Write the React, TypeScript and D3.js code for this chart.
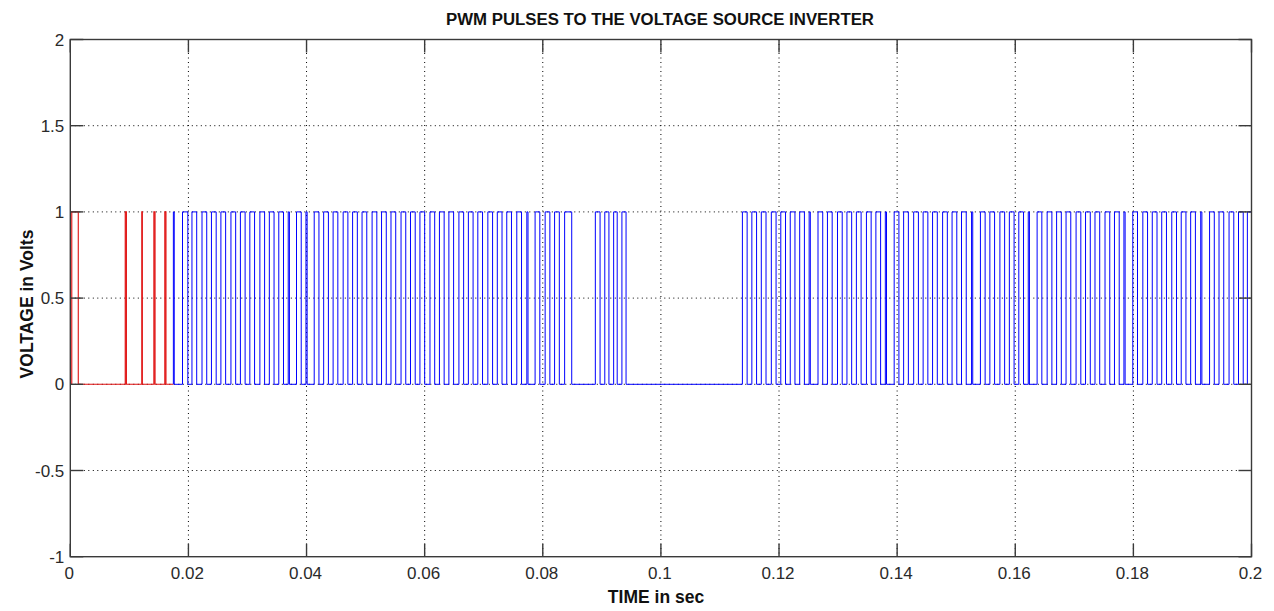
import React from "react";
import * as d3 from "d3";

// x tick values (seconds) and y tick values (volts)
const xTicks = [0, 0.02, 0.04, 0.06, 0.08, 0.1, 0.12, 0.14, 0.16, 0.18, 0.2];
const yTicks = [-1, -0.5, 0, 0.5, 1, 1.5, 2];

// Red series (start-up part), pulses as [rise, fall] in milliseconds
const redEndMs = 17.45;
const redPulsesMs: [number, number][] = [
  [0.25, 1.35],
  [9.3, 9.5],
  [12.1, 12.2],
  [14.15, 14.35],
  [16.0, 16.2],
];

// Blue series, pulses as [rise, fall] in milliseconds
const blueStartMs = 17.45;
const blueEndMs = 200;
const bluePulsesMs: [number, number][] = [
  [17.45, 17.6], [19.0, 19.9], [20.6, 21.4], [22.3, 23.1], [23.9, 24.7], [25.5, 26.3],
  [27.2, 28.0], [28.8, 29.6], [30.4, 31.2], [32.1, 32.9], [33.7, 34.5], [35.3, 36.1],
  [36.9, 37.1], [38.3, 39.1], [39.9, 40.1], [41.3, 42.1], [42.9, 43.7], [44.5, 45.3],
  [46.2, 47.0], [47.8, 48.6], [49.4, 50.2], [51.1, 51.9], [52.7, 53.5], [54.3, 55.1],
  [56.0, 56.8], [57.6, 58.4], [59.2, 60.0], [60.9, 61.7], [62.5, 63.3], [64.1, 64.9],
  [65.8, 66.6], [67.4, 68.2], [69.0, 69.8], [70.7, 71.5], [72.3, 73.1], [73.9, 74.7],
  [75.6, 76.4], [77.3, 77.5], [78.7, 79.5], [80.4, 81.2], [82.0, 82.8], [83.7, 84.9],
  [88.9, 89.7], [90.5, 91.2], [92.0, 92.6], [93.4, 94.1],
  [113.8, 114.6], [115.4, 116.2], [117.0, 117.8], [118.7, 119.5], [120.3, 121.1], [121.9, 122.7],
  [123.5, 124.3], [125.1, 125.3], [126.6, 127.4], [128.2, 129.0], [129.9, 130.7], [131.5, 132.3],
  [133.1, 133.9], [134.8, 135.6], [136.4, 137.2], [138.0, 138.2], [139.5, 140.3], [141.1, 141.9],
  [142.8, 143.6], [144.4, 145.2], [146.0, 146.8], [147.7, 148.5], [149.3, 150.1], [150.9, 151.7],
  [152.6, 152.8], [154.1, 154.9], [155.7, 156.5], [157.4, 158.2], [159.0, 159.8], [160.6, 161.4],
  [162.2, 162.4], [163.7, 164.5], [165.4, 166.2], [167.0, 167.8], [168.6, 169.4], [170.3, 171.1],
  [171.9, 172.7], [173.5, 174.3], [175.2, 176.0], [176.8, 177.6], [178.4, 178.6], [179.9, 180.7],
  [181.6, 182.4], [183.2, 184.0], [184.8, 185.6], [186.5, 187.3], [188.1, 188.9], [189.7, 190.5],
  [191.4, 191.6], [192.9, 193.7], [194.5, 195.3], [196.2, 197.0], [197.8, 198.6], [199.3, 200],
];

const title = "PWM PULSES TO THE VOLTAGE SOURCE INVERTER";
const xLabel = "TIME in sec";
const yLabel = "VOLTAGE in Volts";

const W = 1274;
const H = 611;
const L = 70.3, R = 1251.5, T = 39.5, B = 556.7;

function pulsePoints(startMs: number, endMs: number, pulses: [number, number][]): [number, number][] {
  const pts: [number, number][] = [[startMs / 1000, 0]];
  for (const [s, e] of pulses) {
    pts.push([s / 1000, 0], [s / 1000, 1], [e / 1000, 1], [e / 1000, 0]);
  }
  pts.push([endMs / 1000, 0]);
  return pts;
}

export default function App() {
  const x = d3.scaleLinear().domain([0, 0.2]).range([L, R]);
  const y = d3.scaleLinear().domain([-1, 2]).range([B, T]);
  const line = d3.line<[number, number]>().x((d) => x(d[0])).y((d) => y(d[1]));
  const redPath = line(pulsePoints(0, redEndMs, redPulsesMs)) || "";
  const bluePath = line(pulsePoints(blueStartMs, blueEndMs, bluePulsesMs)) || "";
  const font = "'Liberation Sans', Arial, Helvetica, sans-serif";
  const tickLen = 13;
  const axisColor = "#3a3a3a";

  return (
    <svg width={W} height={H} style={{ position: "absolute", left: 0, top: 0, background: "#fff" }}>
      <rect x={0} y={0} width={W} height={H} fill="#fff" />
      {/* grid */}
      <g stroke="#000" strokeWidth={1} strokeDasharray="1,3.5">
        {xTicks.slice(1, -1).map((t) => (
          <line key={"gx" + t} x1={x(t)} x2={x(t)} y1={T} y2={B} />
        ))}
        {yTicks.slice(1, -1).map((t) => (
          <line key={"gy" + t} x1={L} x2={R} y1={y(t)} y2={y(t)} />
        ))}
      </g>
      {/* data */}
      <path d={redPath} fill="none" stroke="#e01010" strokeWidth={1.1} />
      <path d={bluePath} fill="none" stroke="#0000ff" strokeWidth={1} />
      {/* axes box & ticks */}
      <g stroke={axisColor} strokeWidth={1.4} fill="none">
        <rect x={L} y={T} width={R - L} height={B - T} />
        {xTicks.map((t) => (
          <g key={"tx" + t}>
            <line x1={x(t)} x2={x(t)} y1={B} y2={B - tickLen} />
            <line x1={x(t)} x2={x(t)} y1={T} y2={T + tickLen} />
          </g>
        ))}
        {yTicks.map((t) => (
          <g key={"ty" + t}>
            <line x1={L} x2={L + tickLen} y1={y(t)} y2={y(t)} />
            <line x1={R} x2={R - tickLen} y1={y(t)} y2={y(t)} />
          </g>
        ))}
      </g>
      {/* tick labels */}
      <g fontFamily={font} fontSize={17} fill="#2a2a2a">
        {xTicks.map((t) => (
          <text key={"lx" + t} x={x(t) - 1} y={579} textAnchor="middle">
            {String(t)}
          </text>
        ))}
        {yTicks.map((t) => (
          <text key={"ly" + t} x={L - 6} y={y(t)} dy="0.36em" textAnchor="end">
            {String(t)}
          </text>
        ))}
      </g>
      {/* titles */}
      <text x={660} y={25} textAnchor="middle" fontFamily={font} fontWeight="bold" fontSize={16.8} fill="#111">
        {title}
      </text>
      <text x={656} y={603} textAnchor="middle" fontFamily={font} fontWeight="bold" fontSize={17.5} fill="#111">
        {xLabel}
      </text>
      <text
        transform={`translate(33,304) rotate(-90)`}
        textAnchor="middle"
        fontFamily={font}
        fontWeight="bold"
        fontSize={17.5}
        fill="#111"
      >
        {yLabel}
      </text>
    </svg>
  );
}
